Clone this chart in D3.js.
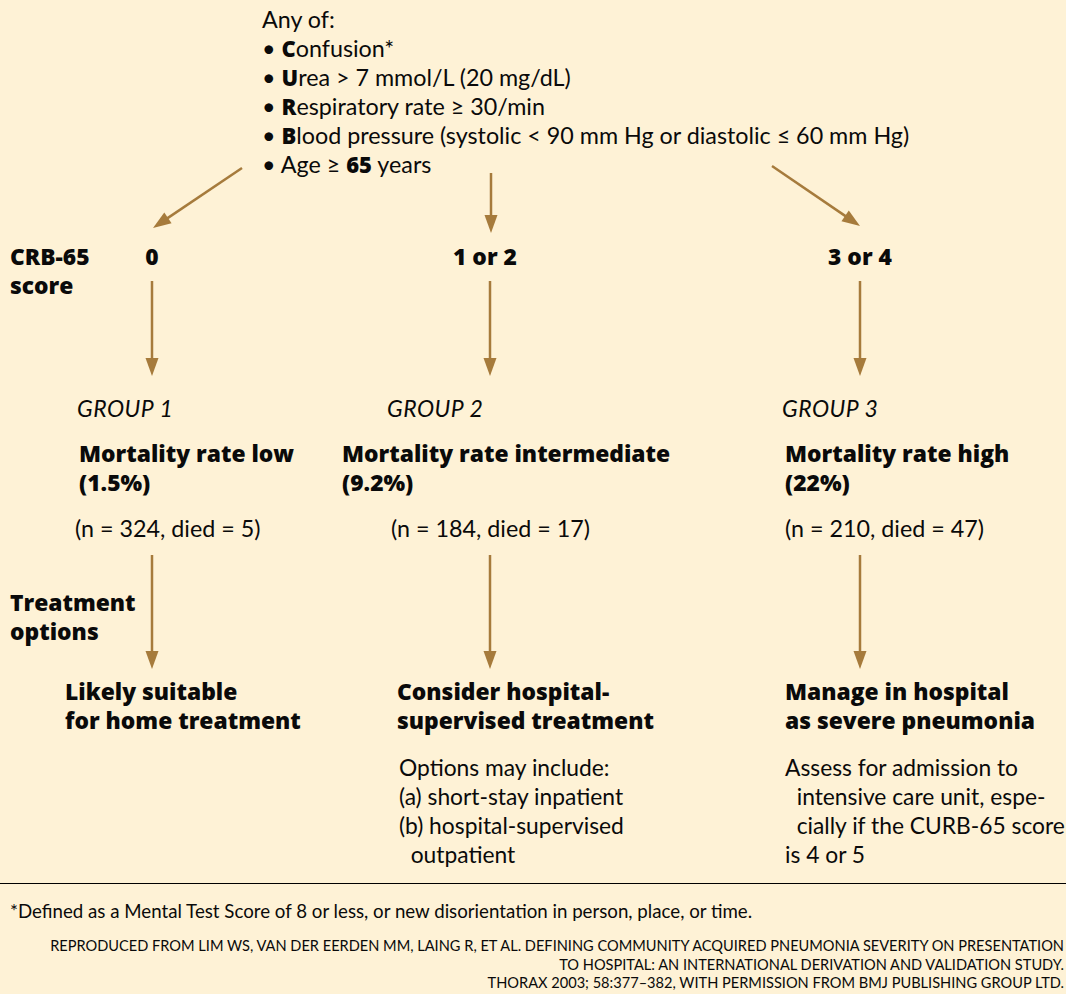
<!DOCTYPE html>
<html>
<head>
<meta charset="utf-8">
<script src="https://cdn.jsdelivr.net/npm/d3@7"></script>
<style>
  body { margin: 0; background: #fef2d6; }
  svg { display: block; font-family: Lato, "Open Sans", sans-serif; fill: #0a0a0a; }
  .b { font-family: "Open Sans", Lato, sans-serif; font-weight: 800; }
</style>
</head>
<body>
<svg id="chart" width="1066" height="994"></svg>
<script>
// text content of the chart ("**x**" marks bold parts)
const criteriaHead = "Any of:";
const criteria = [
  "**C**onfusion*",
  "**U**rea > 7 mmol/L (20 mg/dL)",
  "**R**espiratory rate ≥ 30/min",
  "**B**lood pressure (systolic < 90 mm Hg or diastolic ≤ 60 mm Hg)",
  "Age ≥ **65** years"
];
const scores = ["0", "1 or 2", "3 or 4"];
const groups = ["GROUP 1", "GROUP 2", "GROUP 3"];
const mortality = ["Mortality rate low", "Mortality rate intermediate", "Mortality rate high"];
const rates = ["(1.5%)", "(9.2%)", "(22%)"];
const patients = [324, 184, 210];
const died = [5, 17, 47];
const treatments = [
  ["Likely suitable", "for home treatment"],
  ["Consider hospital-", "supervised treatment"],
  ["Manage in hospital", "as severe pneumonia"]
];
const notes = [
  [],
  ["Options may include:", "(a) short-stay inpatient", "(b) hospital-supervised", "  outpatient"],
  ["Assess for admission to", "  intensive care unit, espe-", "  cially if the CURB-65 score", "is 4 or 5"]
];
const footnote = "*Defined as a Mental Test Score of 8 or less, or new disorientation in person, place, or time.";
const source = [
  "REPRODUCED FROM LIM WS, VAN DER EERDEN MM, LAING R, ET AL. DEFINING COMMUNITY ACQUIRED PNEUMONIA SEVERITY ON PRESENTATION",
  "TO HOSPITAL: AN INTERNATIONAL DERIVATION AND VALIDATION STUDY.",
  "THORAX 2003; 58:377\u2013382, WITH PERMISSION FROM BMJ PUBLISHING GROUP LTD."
];

const svg = d3.select('#chart');
const arrowColor = '#a67b3c';

// column positions
const colIdx = d3.range(3);
const colX = d3.scaleOrdinal().domain(colIdx).range([152, 490, 860]);
const groupX = d3.scaleOrdinal().domain(colIdx).range([77, 387, 782]);
const mortX = d3.scaleOrdinal().domain(colIdx).range([79, 342, 785]);
const countX = d3.scaleOrdinal().domain(colIdx).range([75, 391, 785]);
const treatX = d3.scaleOrdinal().domain(colIdx).range([65, 397, 785]);

function arrow(x1, y1, x2, y2) {
  // line plus a filled head, rotated along the direction
  const ang = Math.atan2(y2 - y1, x2 - x1) * 180 / Math.PI - 90;
  const len = Math.hypot(x2 - x1, y2 - y1);
  const g = svg.append('g').attr('transform', `translate(${x1},${y1}) rotate(${ang})`);
  g.append('line')
    .attr('x1', 0).attr('y1', 0).attr('x2', 0).attr('y2', len - 10)
    .attr('stroke', arrowColor).attr('stroke-width', 2.5);
  g.append('path')
    .attr('d', `M-6.5,${len - 18} L6.5,${len - 18} L0,${len} Z`)
    .attr('fill', arrowColor);
}

const fs = 23.3;   // regular text
const fsB = 22.8;  // bold text

// rich text helper: "**bold**" segments
function richText(sel, str) {
  str.split(/(\*\*[^*]+\*\*)/).filter(s => s.length).forEach(s => {
    const b = s.startsWith('**');
    const ts = sel.append('tspan').text(b ? s.slice(2, -2) : s);
    if (b) ts.attr('class', 'b').attr('font-size', 22);
  });
}

// criteria block
svg.append('text').attr('x', 262).attr('y', 28).attr('font-size', fs).text(criteriaHead);
criteria.forEach((c, i) => {
  const t = svg.append('text').attr('x', 262).attr('y', 57 + i * 29).attr('font-size', fs)
    .attr('xml:space', 'preserve');
  t.append('tspan').text('• ');
  richText(t, c);
});

// top arrows from criteria to scores
arrow(242, 168, 153, 228);
arrow(491, 173, 491, 233);
arrow(772, 166, 860, 226);

// score row
svg.append('text').attr('class', 'b').attr('x', 10).attr('y', 265).attr('font-size', fsB).text('CRB-65');
svg.append('text').attr('class', 'b').attr('x', 10).attr('y', 294).attr('font-size', fsB).text('score');
svg.selectAll('.score').data(scores).join('text')
  .attr('class', 'score b')
  .attr('x', (d, i) => i === 1 ? colX(i) - 5 : colX(i))
  .attr('y', 265)
  .attr('text-anchor', 'middle')
  .attr('font-size', fsB)
  .text(d => d);

colIdx.forEach(i => arrow(colX(i), 281, colX(i), 376));

// groups
svg.selectAll('.group').data(groups).join('text')
  .attr('class', 'group')
  .attr('x', (d, i) => groupX(i)).attr('y', 417)
  .attr('font-size', 23).attr('font-style', 'italic')
  .attr('letter-spacing', 0.5)
  .text(d => d);

svg.selectAll('.mort').data(mortality).join('text')
  .attr('class', 'mort b')
  .attr('x', (d, i) => mortX(i)).attr('y', 462)
  .attr('font-size', fsB)
  .text(d => d);

svg.selectAll('.rate').data(rates).join('text')
  .attr('class', 'rate b')
  .attr('x', (d, i) => mortX(i)).attr('y', 491)
  .attr('font-size', fsB)
  .text(d => d);

svg.selectAll('.count').data(patients).join('text')
  .attr('class', 'count')
  .attr('x', (d, i) => countX(i)).attr('y', 537)
  .attr('font-size', fs)
  .text((d, i) => `(n = ${d}, died = ${died[i]})`);

// treatment row
svg.append('text').attr('class', 'b').attr('x', 10).attr('y', 611).attr('font-size', fsB).text('Treatment');
svg.append('text').attr('class', 'b').attr('x', 10).attr('y', 640).attr('font-size', fsB).text('options');

colIdx.forEach(i => arrow(colX(i), 555, colX(i), 669));

treatments.forEach((lines, i) => {
  lines.forEach((l, j) => {
    svg.append('text').attr('class', 'b')
      .attr('x', treatX(i)).attr('y', 700 + j * 29)
      .attr('font-size', fsB)
      .text(l);
  });
});

notes.forEach((lines, i) => {
  lines.forEach((l, j) => {
    svg.append('text')
      .attr('x', i === 1 ? 399 : 785).attr('y', 776 + j * 29)
      .attr('font-size', 22.8)
      .attr('xml:space', 'preserve')
      .text(l);
  });
});

// footnote rule
svg.append('line')
  .attr('x1', 0).attr('x2', 1066).attr('y1', 883.5).attr('y2', 883.5)
  .attr('stroke', '#000').attr('stroke-width', 1);

svg.append('text').attr('x', 10).attr('y', 918).attr('font-size', 18.7).text(footnote);

source.forEach((s, i) => {
  svg.append('text')
    .attr('x', 1064).attr('y', 951 + i * 18.5)
    .attr('text-anchor', 'end')
    .attr('font-size', 14.6)
    .text(s);
});
</script>
</body>
</html>
